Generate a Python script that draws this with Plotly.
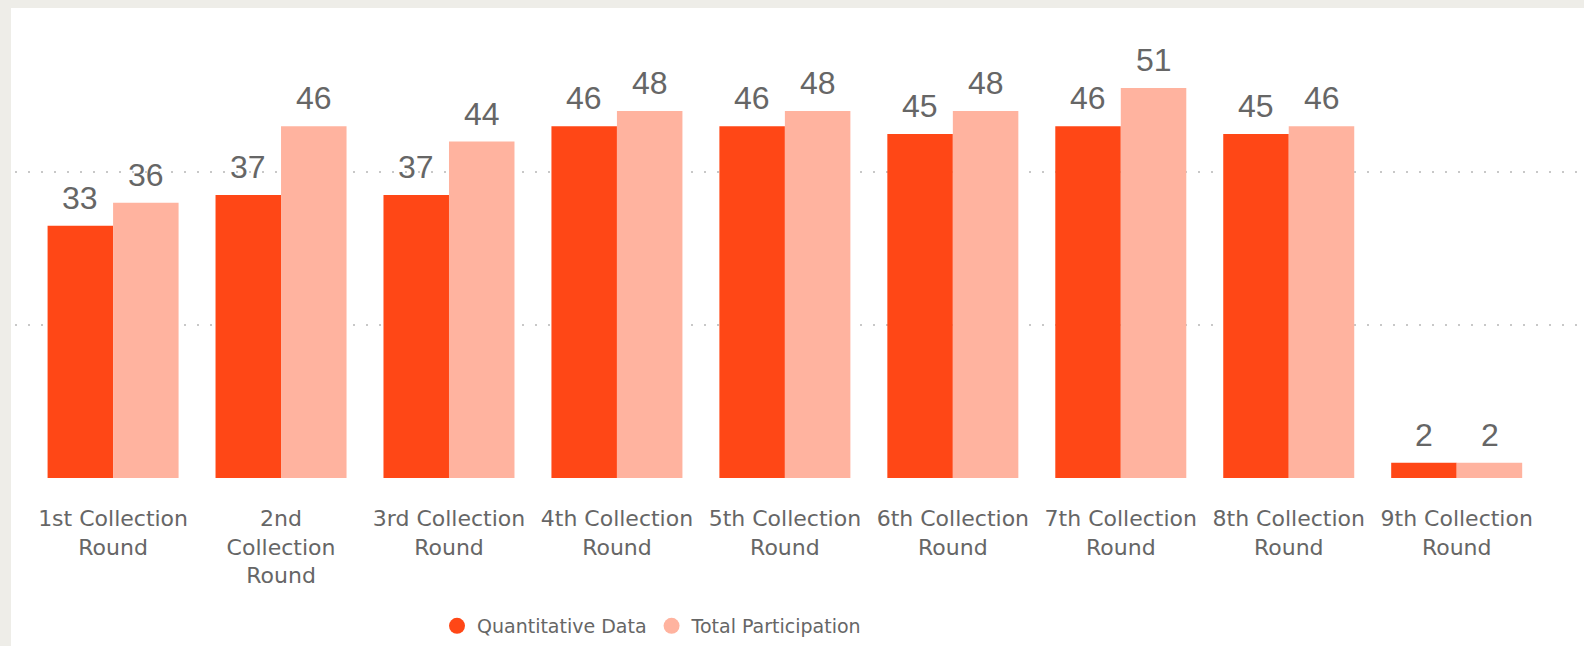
import plotly.graph_objects as go

categories = ["1st Collection<br>Round", "2nd<br>Collection<br>Round", "3rd Collection<br>Round",
              "4th Collection<br>Round", "5th Collection<br>Round", "6th Collection<br>Round",
              "7th Collection<br>Round", "8th Collection<br>Round", "9th Collection<br>Round"]
quantitative = [33, 37, 37, 46, 46, 45, 46, 45, 2]
total = [36, 46, 44, 48, 48, 48, 51, 46, 2]
series_names = ["Quantitative Data", "Total Participation"]
colors = ["#FF4716", "#FFB39F"]

W, H = 1584, 646
L, R, T, B = 15, 1584, 57, 478  # plot area pixels
YMAX = 55.06

fig = go.Figure()
for name, vals, col in zip(series_names, [quantitative, total], colors):
    fig.add_trace(go.Bar(x=categories, y=vals, name=name, marker_color=col,
                         marker_line_width=0, showlegend=False))
    fig.add_trace(go.Scatter(x=[None], y=[None], mode="markers", name=name,
                             marker=dict(symbol="circle", size=20, color=col)))

shift = 33
for vals, xs in [(quantitative, -shift), (total, shift)]:
    for c, v in zip(categories, vals):
        fig.add_annotation(x=c, y=v, text=str(v), showarrow=False, xshift=xs, yshift=28,
                           yanchor="middle", font=dict(family="Liberation Sans", size=32, color="#666666"))

pw = R - L
ph = B - T
gray = "#EEEDE8"
# left gray strip
fig.add_shape(type="rect", xref="paper", yref="paper",
              x0=-0.05, x1=(11 - L) / pw, y0=-1, y1=2,
              fillcolor=gray, line_width=0, layer="below")
# top gray strip
fig.add_shape(type="rect", xref="paper", yref="paper",
              x0=-0.05, x1=1.05, y0=(B - 8) / ph, y1=2,
              fillcolor=gray, line_width=0, layer="below")

fig.update_layout(
    width=W, height=H,
    margin=dict(l=L, r=W - R, t=T, b=H - B),
    paper_bgcolor="white", plot_bgcolor="rgba(0,0,0,0)",
    barmode="group", bargap=0.22, bargroupgap=0,
    font=dict(family="DejaVu Sans", color="#666666"),
    legend=dict(orientation="h", x=(652 - L) / pw, xanchor="center",
                y=(B - 626) / ph, yanchor="middle", bgcolor="rgba(0,0,0,0)",
                font=dict(size=19, color="#666666"), itemwidth=30, tracegroupgap=0),
    xaxis=dict(range=[-0.584, 8.758], showgrid=False, showline=False, ticks="",
               tickfont=dict(size=22, color="#666666"), ticklabelstandoff=25, fixedrange=True),
    yaxis=dict(range=[0, YMAX], tickvals=[0, 20, 40], showticklabels=False, showgrid=True,
               gridcolor="#C8C8C8", gridwidth=1.5, griddash="2px,11px", zeroline=False,
               showline=False, fixedrange=True),
)

fig.write_html("out.html", config={"displayModeBar": False},
               post_script="document.body.style.margin='0';document.body.style.overflow='hidden';")
